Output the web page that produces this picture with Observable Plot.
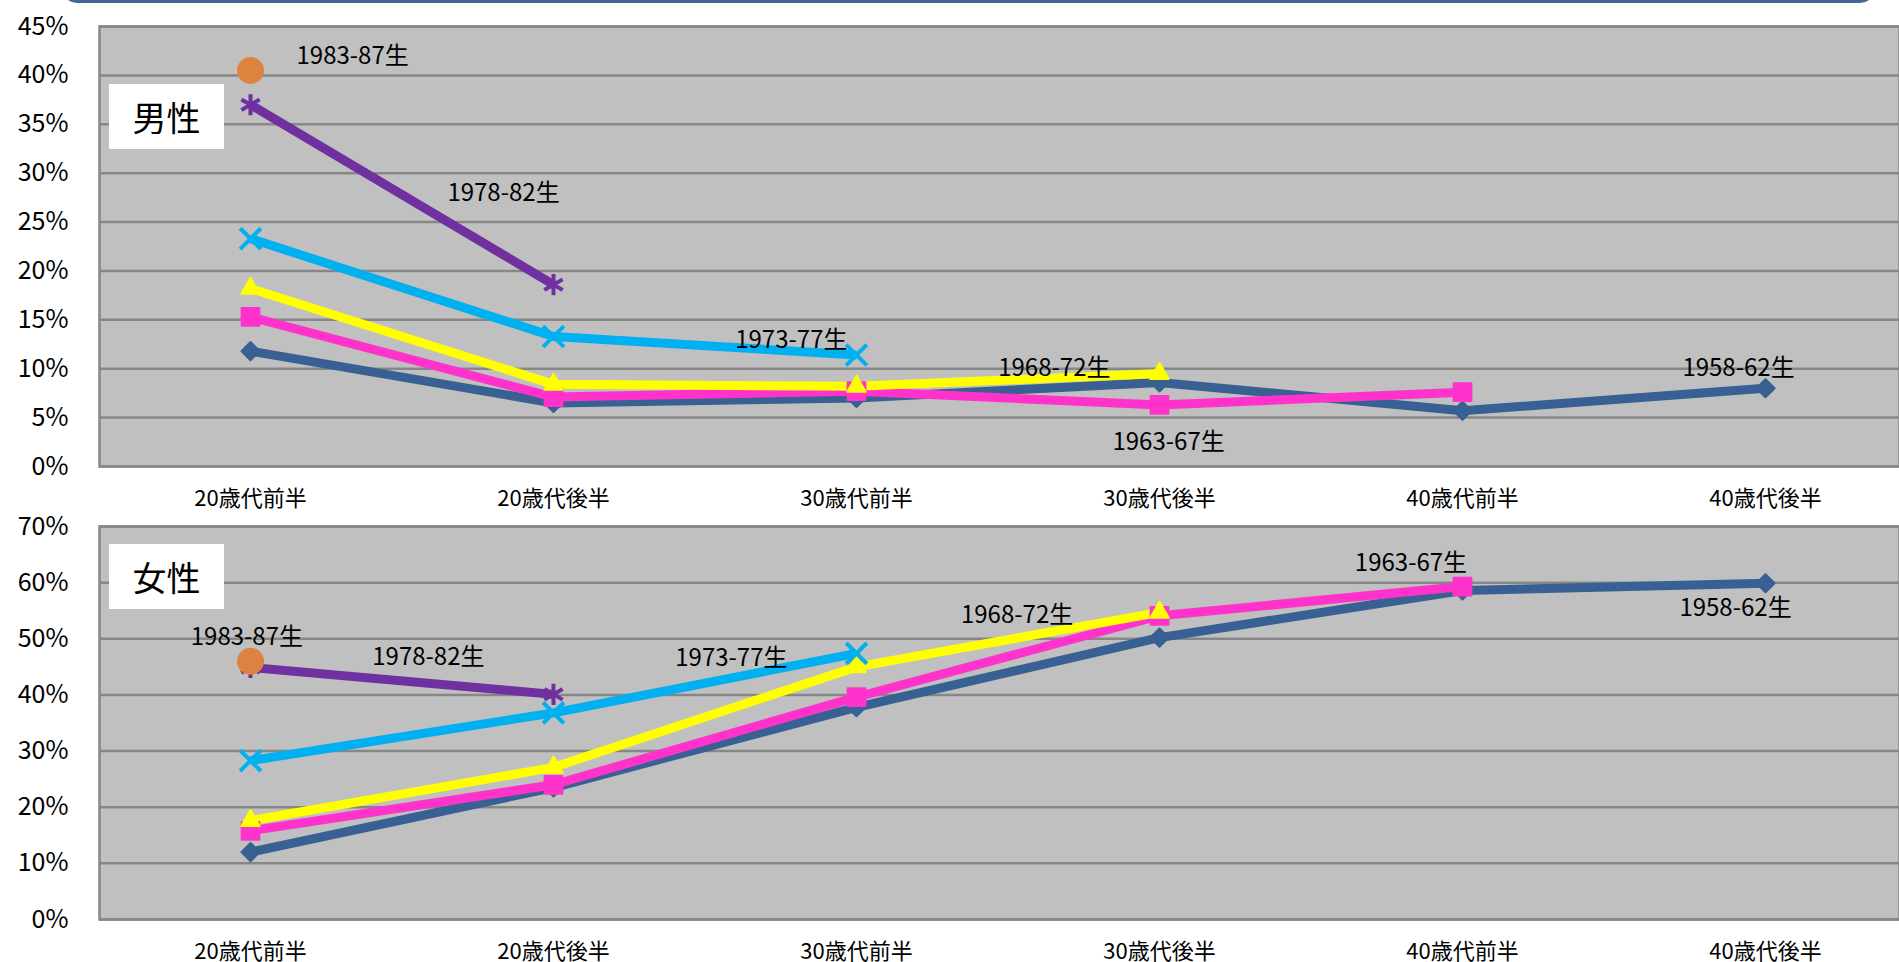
<!DOCTYPE html>
<html>
<head>
<meta charset="utf-8">
<script src="https://cdn.jsdelivr.net/npm/d3@7"></script>
<script src="https://cdn.jsdelivr.net/npm/@observablehq/plot@0.6"></script>
<style>
  html, body { margin: 0; padding: 0; background: #fff; }
  body { position: relative; width: 1899px; height: 962px; overflow: hidden; font-family: "Noto Sans CJK JP", sans-serif; }
  #topframe { position: absolute; left: 62px; top: -27px; width: 1813px; height: 30px; border: 3px solid #3f6797; border-radius: 16px; box-sizing: border-box; }
  .tag { position: absolute; background: #fff; width: 115px; height: 65px; font-size: 34px; line-height: 65px; text-align: center; color: #000; }
  svg { display: block; }
</style>
</head>
<body>
<div id="topframe"></div>
<div id="charts"></div>
<div class="tag" style="left:109px; top:84px;">男性</div>
<div class="tag" style="left:109px; top:544px;">女性</div>
<script>
// ---- data ----
const ageGroups = ["20歳代前半", "20歳代後半", "30歳代前半", "30歳代後半", "40歳代前半", "40歳代後半"];
const cohorts = ["1958-62生", "1963-67生", "1968-72生", "1973-77生", "1978-82生", "1983-87生"];

// 男性 (%)
const male1958 = [11.8, 6.5, 7.0, 8.6, 5.7, 8.0];
const male1963 = [15.3, 7.1, 7.7, 6.3, 7.6, null];
const male1968 = [18.2, 8.4, 8.2, 9.5, null, null];
const male1973 = [23.3, 13.3, 11.4, null, null, null];
const male1978 = [37.0, 18.6, null, null, null, null];
const male1983 = [40.5, null, null, null, null, null];

// 女性 (%)
const female1958 = [12.0, 23.5, 37.8, 50.2, 58.6, 59.9];
const female1963 = [15.8, 24.0, 39.6, 54.1, 59.3, null];
const female1968 = [17.6, 27.1, 45.0, 54.7, null, null];
const female1973 = [28.3, 36.8, 47.4, null, null, null];
const female1978 = [44.9, 40.1, null, null, null, null];
const female1983 = [46.0, null, null, null, null, null];

// cohort label anchors (x in age-group index units, y in %)
const maleLabelX = [4.911, 3.030, 2.653, 1.785, 0.835, 0.337];
const maleLabelY = [10.0, 2.5, 10.0, 12.9, 27.9, 42.0];
const femaleLabelX = [4.901, 3.830, 2.530, 1.587, 0.587, -0.012];
const femaleLabelY = [55.5, 63.4, 54.2, 46.5, 46.7, 50.3];

const maleTicks = [0, 5, 10, 15, 20, 25, 30, 35, 40, 45];
const femaleTicks = [0, 10, 20, 30, 40, 50, 60, 70];

// ---- styling ----
const colors = ["#386092", "#ff33cc", "#ffff00", "#00b0f0", "#7030a0", "#de8240"];
const markerSpec = [
  {symbol: "diamond2", r: 8.2, filled: true},
  {symbol: "square2", r: 11.3, filled: true},
  {symbol: "triangle2", r: 8.8, filled: true},
  {symbol: "times", r: 9.5, filled: false},
  {symbol: "asterisk", r: 10, filled: false},
  {symbol: "circle", r: 12.5, filled: true}
];

function rowsFrom(seriesList) {
  const rows = [];
  seriesList.forEach((vals, s) => {
    vals.forEach((v, i) => { if (v != null) rows.push({cohort: cohorts[s], age: i, value: v}); });
  });
  return rows;
}

function makeChart({series, ticks, maxY, labelX, labelY, height, marginTop, marginBottom}) {
  const rows = rowsFrom(series);
  const labels = cohorts.map((c, i) => ({cohort: c, x: labelX[i], y: labelY[i]}));
  const marks = [
    Plot.frame({fill: "#c0c0c0"}),
    Plot.ruleY(ticks, {stroke: "#878787", strokeWidth: 2.5}),
    Plot.frame({stroke: "#878787", strokeWidth: 2.5}),
    Plot.axisY({ticks, tickFormat: d => d + "%", tickSize: 0, tickPadding: 31, fontSize: 25}),
    Plot.axisX({ticks: ageGroups.map((_, i) => i), tickFormat: i => ageGroups[i], tickSize: 0, tickPadding: 24, fontSize: 22}),
    Plot.line(rows, {x: "age", y: "value", z: "cohort", stroke: "cohort", strokeWidth: 9, strokeLinejoin: "miter", strokeLinecap: "butt"})
  ];
  cohorts.forEach((c, s) => {
    const m = markerSpec[s];
    const data = rows.filter(d => d.cohort === c);
    marks.push(Plot.dot(data, m.filled
      ? {x: "age", y: "value", symbol: () => m.symbol, r: m.r, fill: colors[s], stroke: colors[s], strokeWidth: 2, strokeLinejoin: "round"}
      : {x: "age", y: "value", symbol: () => m.symbol, r: m.r, fill: "none", stroke: colors[s], strokeWidth: 4}));
  });
  marks.push(Plot.text(labels, {x: "x", y: "y", text: "cohort", fontSize: 24, fill: "#000", textAnchor: "middle"}));
  return Plot.plot({
    width: 1899,
    height,
    marginLeft: 99,
    marginRight: 0,
    marginTop,
    marginBottom,
    style: {fontFamily: "'Noto Sans CJK JP', sans-serif", color: "#000", background: "transparent", overflow: "visible"},
    x: {type: "linear", domain: [0, 5], range: [250, 1765], axis: null},
    y: {domain: [0, maxY], axis: null},
    color: {domain: cohorts, range: colors},
    symbol: {domain: markerSpec.map(m => m.symbol), range: markerSpec.map(m => m.symbol)},
    marks
  });
}

const container = document.getElementById("charts");
container.appendChild(makeChart({
  series: [male1958, male1963, male1968, male1973, male1978, male1983],
  ticks: maleTicks, maxY: 45, labelX: maleLabelX, labelY: maleLabelY,
  height: 510, marginTop: 26, marginBottom: 44
}));
container.appendChild(makeChart({
  series: [female1958, female1963, female1968, female1973, female1978, female1983],
  ticks: femaleTicks, maxY: 70, labelX: femaleLabelX, labelY: femaleLabelY,
  height: 452, marginTop: 16, marginBottom: 43
}));
</script>
</body>
</html>
